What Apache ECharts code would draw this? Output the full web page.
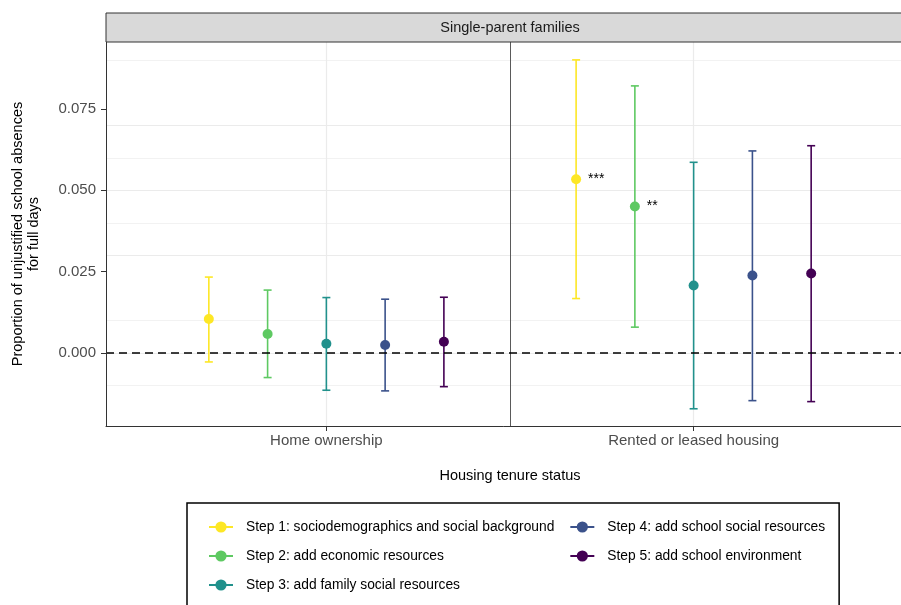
<!DOCTYPE html>
<html>
<head>
<meta charset="utf-8">
<script src="https://cdn.jsdelivr.net/npm/echarts@6/dist/echarts.min.js"></script>
<style>
html,body{margin:0;padding:0;background:#fff;}
#chart{width:901px;height:605px;}
</style>
</head>
<body>
<div id="chart"></div>
<script>
// 数据
var categories = ['Home ownership', 'Rented or leased housing'];
var steps = [
	'Step 1: sociodemographics and social background',
	'Step 2: add economic resources',
	'Step 3: add family social resources',
	'Step 4: add school social resources',
	'Step 5: add school environment'
];
var colors = ['#fde725', '#5ec962', '#21918c', '#3b528b', '#440154'];
var estHome = [0.0104, 0.0058, 0.0028, 0.0024, 0.0034];
var loHome = [-0.0028, -0.0076, -0.0115, -0.0117, -0.0104];
var hiHome = [0.0233, 0.0193, 0.0170, 0.0165, 0.0171];
var estRent = [0.0534, 0.0450, 0.0207, 0.0238, 0.0244];
var loRent = [0.0167, 0.0079, -0.0172, -0.0147, -0.0150];
var hiRent = [0.0901, 0.0821, 0.0586, 0.0621, 0.0637];
var sigHome = ['', '', '', '', ''];
var sigRent = ['***', '**', '', '', ''];
var yTicks = [0, 0.025, 0.05, 0.075];
var yMinor = [-0.0125, 0.0125, 0.0375, 0.0625, 0.0875];
var xTicks = [1, 2];

var font = '"Liberation Sans", Arial, Helvetica, sans-serif';
var chart = echarts.init(document.getElementById('chart'));

// 分组位置
function dodgeX(cat, i){
	return cat + 1 + (i - 2) * 0.16;
}

var series = [];

// 网格线
var gridLines = [];
yMinor.forEach(function(v){
	gridLines.push({yAxis: v, lineStyle: {color: '#f2f2f2', width: 1, type: 'solid'}});
});
yTicks.forEach(function(v){
	gridLines.push({yAxis: v, lineStyle: {color: '#ebebeb', width: 1.2, type: 'solid'}});
});
xTicks.forEach(function(v){
	gridLines.push({xAxis: v, lineStyle: {color: '#ebebeb', width: 1.2, type: 'solid'}});
});
series.push({
	type: 'line', name: 'grid', data: [], silent: true, z: 1,
	markLine: {silent: true, symbol: ['none', 'none'], label: {show: false}, z: 1,
		animation: false, data: gridLines}
});
// 分隔线
series.push({
	type: 'line', name: 'divider', data: [], silent: true, z: 2,
	markLine: {silent: true, symbol: ['none', 'none'], label: {show: false}, z: 2, animation: false,
		data: [{xAxis: 1.5, lineStyle: {color: '#5a5a5a', width: 1, type: 'solid'}}]}
});

// 误差线
steps.forEach(function(name, i){
	var d = [
		[dodgeX(0, i), loHome[i], hiHome[i]],
		[dodgeX(1, i), loRent[i], hiRent[i]]
	];
	series.push({
		type: 'custom', name: name + ' ci', z: 3, silent: true,
		data: d,
		renderItem: function(params, api){
			var lo = api.coord([api.value(0), api.value(1)]);
			var hi = api.coord([api.value(0), api.value(2)]);
			var w = 4;
			var st = {stroke: colors[i], lineWidth: 1.6};
			return {
				type: 'group',
				children: [
					{type: 'line', shape: {x1: lo[0], y1: lo[1], x2: hi[0], y2: hi[1]}, style: st},
					{type: 'line', shape: {x1: lo[0] - w, y1: lo[1], x2: lo[0] + w, y2: lo[1]}, style: st},
					{type: 'line', shape: {x1: hi[0] - w, y1: hi[1], x2: hi[0] + w, y2: hi[1]}, style: st}
				]
			};
		}
	});
});

// 零线
series.push({
	type: 'line', name: 'zero', data: [], silent: true, z: 4,
	markLine: {silent: true, symbol: ['none', 'none'], label: {show: false}, z: 4, animation: false,
		data: [{yAxis: 0, lineStyle: {color: '#000', width: 1.6, type: [8, 5]}}]}
});

// 点估计
steps.forEach(function(name, i){
	var pts = [[dodgeX(0, i), estHome[i], sigHome[i]], [dodgeX(1, i), estRent[i], sigRent[i]]];
	series.push({
		type: 'line', name: name, z: 6,
		symbol: 'circle', symbolSize: 10, showSymbol: true,
		itemStyle: {color: colors[i]},
		lineStyle: {opacity: 0, color: colors[i], width: 2},
		data: pts.map(function(p){
			return {
				value: [p[0], p[1]],
				label: {show: p[2] !== '', formatter: p[2], position: 'right', distance: 7,
					fontSize: 14, color: '#000', fontFamily: font}
			};
		})
	});
});

var option = {
	animation: false,
	backgroundColor: '#fff',
	// 右侧被裁掉一部分
	grid: {left: 106, width: 808, top: 42, bottom: 179, outerBoundsMode: 'none', containLabel: false},
	xAxis: {
		type: 'value', min: 0.4, max: 2.6, z: 5,
		axisLine: {show: true, onZero: false, lineStyle: {color: '#333', width: 1}},
		axisTick: {show: true, length: 5, customValues: xTicks, lineStyle: {color: '#333'}},
		axisLabel: {customValues: xTicks, margin: 7, fontSize: 15, color: '#4d4d4d', fontFamily: font,
			formatter: function(v){ return categories[Math.round(v) - 1] || ''; }},
		splitLine: {show: false},
		name: 'Housing tenure status', nameLocation: 'middle', nameGap: 42,
		nameTextStyle: {fontSize: 14.5, color: '#000', fontFamily: font}
	},
	yAxis: {
		type: 'value', min: -0.0225, max: 0.0956, z: 5,
		axisLine: {show: true, onZero: false, lineStyle: {color: '#333', width: 1}},
		axisTick: {show: true, length: 5, customValues: yTicks, lineStyle: {color: '#333'}},
		axisLabel: {customValues: yTicks, margin: 10, fontSize: 15, color: '#4d4d4d', fontFamily: font,
			formatter: function(v){ return v.toFixed(3); }},
		splitLine: {show: false},
		name: 'Proportion of unjustified school absences\nfor full days',
		nameLocation: 'middle', nameRotate: 90, nameGap: 64,
		nameTextStyle: {fontSize: 14.5, color: '#000', fontFamily: font, lineHeight: 16, align: 'center'}
	},
	legend: {
		data: steps,
		orient: 'vertical',
		left: 187, top: 503, height: 80,
		padding: [17, 14, 20, 21],
		itemWidth: 24, itemHeight: 14, itemGap: 15,
		borderColor: '#000', borderWidth: 1.5, borderRadius: 0,
		backgroundColor: '#fff',
		lineStyle: {opacity: 1, width: 2},
		textStyle: {fontSize: 13.8, color: '#000', fontFamily: font, padding: [0, 0, 0, 8]},
		selectedMode: false
	},
	graphic: [
		{type: 'rect', shape: {x: 106, y: 13, width: 830, height: 29},
			style: {fill: '#d9d9d9', stroke: '#333', lineWidth: 1}, z: 10},
		{type: 'text', x: 510, y: 28, z: 11,
			style: {text: 'Single-parent families', fill: '#1a1a1a', fontSize: 14.5, fontFamily: font,
				align: 'center', verticalAlign: 'middle'}}
	],
	series: series
};
chart.setOption(option);
</script>
</body>
</html>
